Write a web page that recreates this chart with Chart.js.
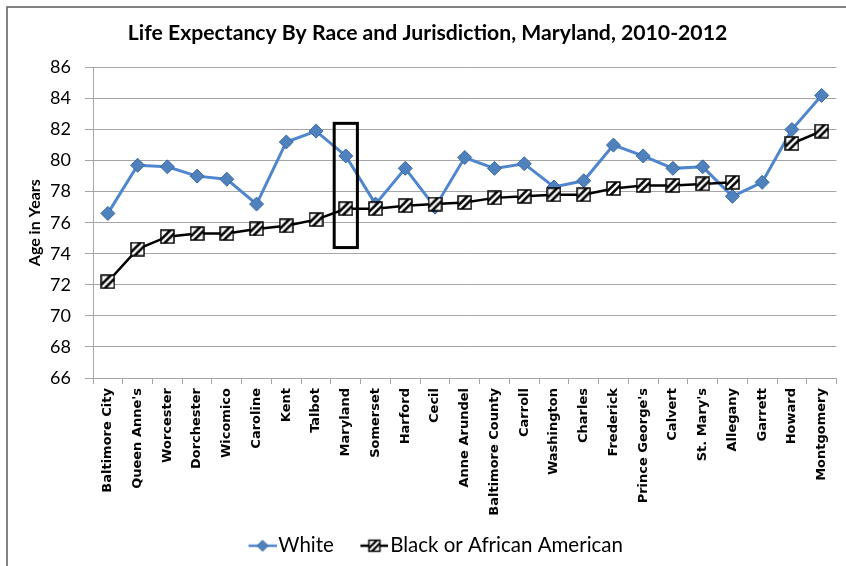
<!DOCTYPE html>
<html>
<head>
<meta charset="utf-8">
<title>Life Expectancy By Race and Jurisdiction, Maryland, 2010-2012</title>
<script src="https://cdn.jsdelivr.net/npm/chart.js@4.4.1/dist/chart.umd.min.js"></script>
<style>
  html, body { margin: 0; padding: 0; background: #fff; }
</style>
</head>
<body>
<canvas id="graph-display" width="846" height="566"></canvas>
<script>
const jurisdictions = [
    'Baltimore City', "Queen Anne's", 'Worcester', 'Dorchester', 'Wicomico',
    'Caroline', 'Kent', 'Talbot', 'Maryland', 'Somerset', 'Harford', 'Cecil',
    'Anne Arundel', 'Baltimore County', 'Carroll', 'Washington', 'Charles',
    'Frederick', "Prince George's", 'Calvert', "St. Mary's", 'Allegany',
    'Garrett', 'Howard', 'Montgomery'
];

const whiteAges = [
    76.6, 79.7, 79.6, 79.0, 78.8, 77.2, 81.2, 81.9, 80.3, 77.2, 79.5, 77.0,
    80.2, 79.5, 79.8, 78.3, 78.7, 81.0, 80.3, 79.5, 79.6, 77.7, 78.6, 82.0, 84.2
];

// no figure published for Garrett
const blackAges = [
    72.2, 74.3, 75.1, 75.3, 75.3, 75.6, 75.8, 76.2, 76.9, 76.9, 77.1, 77.2,
    77.3, 77.6, 77.7, 77.8, 77.8, 78.2, 78.4, 78.4, 78.5, 78.6, null, 81.1, 81.9
];

const yMin = 66;
const yMax = 86;
const yStep = 2;

// outline around the statewide column
const highlightCategory = 'Maryland';
const highlightTop = 82.4;
const highlightBottom = 74.4;

const chartTitle = 'Life Expectancy By Race and Jurisdiction, Maryland, 2010-2012';
const yTitle = 'Age in Years';

const blueLine = '#4F86CD';
const blueFill = '#4F81BD';
const blueEdge = '#3A69A3';
const gridGrey = '#A6A6A6';

const canvas = document.getElementById('graph-display');

// white square with two bold "/" stripes
const drawHatch = (ctx, x, y, size) => {
    ctx.save();
    ctx.fillStyle = '#fff';
    ctx.fillRect(x, y, size, size);
    ctx.beginPath();
    ctx.rect(x, y, size, size);
    ctx.clip();
    ctx.strokeStyle = '#000';
    ctx.lineWidth = size * 0.2;
    for (const k of [-0.27, 0.27]) {
        const off = k * size;
        ctx.beginPath();
        ctx.moveTo(x + off - size * 0.2, y + size + size * 0.2);
        ctx.lineTo(x + off + size * 1.2, y - size * 0.2);
        ctx.stroke();
    }
    ctx.restore();
    ctx.strokeStyle = '#000';
    ctx.lineWidth = 1.5;
    ctx.strokeRect(x, y, size, size);
}

const makeHatchMarker = (size) => {
    const c = document.createElement('canvas');
    c.width = size + 2;
    c.height = size + 2;
    drawHatch(c.getContext('2d'), 1, 1, size);
    return c;
}

const drawDiamond = (ctx, cx, cy, r) => {
    ctx.beginPath();
    ctx.moveTo(cx, cy - r);
    ctx.lineTo(cx + r, cy);
    ctx.lineTo(cx, cy + r);
    ctx.lineTo(cx - r, cy);
    ctx.closePath();
    ctx.fillStyle = blueFill;
    ctx.fill();
    ctx.strokeStyle = blueEdge;
    ctx.lineWidth = 1;
    ctx.stroke();
}

// legend box is wider than the swatch; the swatch sits at the right of a
// transparent canvas so the items end up spaced apart
const legendBox = 36;
const makeLegendSwatch = (kind) => {
    const c = document.createElement('canvas');
    c.width = legendBox + 17;
    c.height = 16;
    const ctx = c.getContext('2d');
    const x0 = c.width - 28;
    ctx.beginPath();
    ctx.moveTo(x0, 8);
    ctx.lineTo(x0 + 28, 8);
    ctx.lineWidth = 2.5;
    ctx.strokeStyle = kind === 'white' ? blueLine : '#000';
    ctx.stroke();
    if (kind === 'white') {
        drawDiamond(ctx, x0 + 14, 8, 5.5);
    } else {
        drawHatch(ctx, x0 + 8.5, 2.5, 11);
    }
    return c;
}

const hatchMarker = makeHatchMarker(13);
const legendSwatches = [makeLegendSwatch('white'), makeLegendSwatch('black')];

const framePlugin = {
    id: 'frame',
    beforeDraw(chart) {
        const ctx = chart.ctx;
        ctx.save();
        ctx.fillStyle = '#fff';
        ctx.fillRect(0, 0, chart.width, chart.height);
        ctx.strokeStyle = '#595959';
        ctx.lineWidth = 1.5;
        ctx.strokeRect(7, 7, chart.width + 10, chart.height + 10);
        ctx.restore();
    }
};

const highlightPlugin = {
    id: 'highlight',
    afterDatasetsDraw(chart) {
        const x = chart.scales.x;
        const y = chart.scales.y;
        const idx = jurisdictions.indexOf(highlightCategory);
        const half = (x.getPixelForValue(1) - x.getPixelForValue(0)) * 0.39;
        const cx = x.getPixelForValue(idx);
        const top = y.getPixelForValue(highlightTop);
        const bottom = y.getPixelForValue(highlightBottom);
        const ctx = chart.ctx;
        ctx.save();
        ctx.strokeStyle = '#000';
        ctx.lineWidth = 3;
        ctx.strokeRect(cx - half, top, half * 2, bottom - top);
        ctx.restore();
    }
};

const config = {
    type: 'line',
    data: {
        labels: jurisdictions,
        datasets: [
            {
                label: 'White',
                data: whiteAges,
                order: 1,
                borderColor: blueLine,
                borderWidth: 3,
                tension: 0,
                pointStyle: 'rectRot',
                pointRadius: 7,
                pointBackgroundColor: blueFill,
                pointBorderColor: blueEdge,
                pointBorderWidth: 1
            },
            {
                label: 'Black or African American',
                data: blackAges,
                order: 0,
                borderColor: '#000',
                borderWidth: 2.5,
                tension: 0,
                spanGaps: false,
                pointStyle: hatchMarker,
                pointRadius: 7
            }
        ]
    },
    options: {
        responsive: false,
        animation: false,
        devicePixelRatio: 1,
        layout: {
            padding: { top: 0, left: 12, right: 3, bottom: 0 }
        },
        plugins: {
            title: {
                display: true,
                text: chartTitle,
                color: '#000',
                font: { family: 'Lato', size: 21.2, weight: 'bold', lineHeight: 1.2 },
                padding: { top: 20, bottom: 22 }
            },
            legend: {
                display: true,
                position: 'bottom',
                labels: {
                    usePointStyle: true,
                    boxWidth: legendBox,
                    boxHeight: 12,
                    pointStyleWidth: legendBox,
                    padding: 10,
                    color: '#000',
                    font: { family: 'Lato', size: 20.5 },
                    sort: (a, b) => a.datasetIndex - b.datasetIndex,
                    generateLabels: (chart) => {
                        const items = Chart.defaults.plugins.legend.labels.generateLabels(chart);
                        return items.map(item => ({ ...item, pointStyle: legendSwatches[item.datasetIndex] }));
                    }
                }
            },
            tooltip: { enabled: false }
        },
        scales: {
            x: {
                type: 'category',
                offset: true,
                grid: {
                    offset: true,
                    drawOnChartArea: false,
                    drawTicks: true,
                    tickLength: 6,
                    color: gridGrey
                },
                border: { color: gridGrey },
                ticks: {
                    autoSkip: false,
                    minRotation: 90,
                    maxRotation: 90,
                    padding: 4,
                    color: '#000',
                    font: { family: 'DejaVu Sans', size: 13, weight: 'bold' }
                },
                afterFit: (scale) => {
                    const legendH = scale.chart.legend ? scale.chart.legend.height : 0;
                    scale.height = scale.chart.height - 378 - legendH;
                }
            },
            y: {
                min: yMin,
                max: yMax,
                grid: {
                    color: gridGrey,
                    tickLength: 8
                },
                border: { color: gridGrey },
                ticks: {
                    stepSize: yStep,
                    padding: 14,
                    color: '#000',
                    font: { family: 'Lato', size: 18 }
                },
                title: {
                    display: true,
                    text: yTitle,
                    color: '#000',
                    font: { family: 'Lato', size: 16, weight: 'bold', lineHeight: 1.2 },
                    padding: { top: 13, bottom: 0 }
                },
                afterFit: (scale) => {
                    scale.width = 81;
                }
            }
        }
    },
    plugins: [framePlugin, highlightPlugin]
};

window.chartData = new Chart(canvas, config);
</script>
</body>
</html>
